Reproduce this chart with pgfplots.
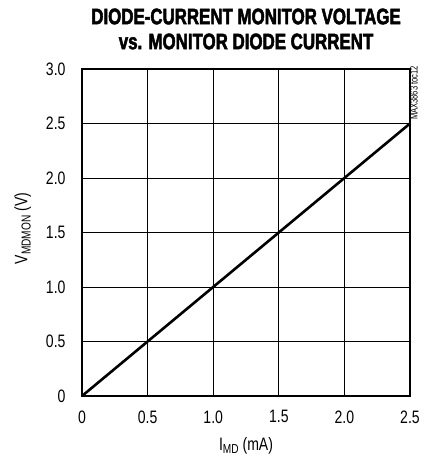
\documentclass[border=0pt]{standalone}
\usepackage{fontspec}
\setmainfont{Liberation Sans}[FakeStretch=0.78]
\newfontfamily\titlefont{Liberation Sans}[FakeStretch=0.75,FakeBold=2.2,BoldFont={* Bold}]
\newfontfamily\smallfont{Liberation Sans}[FakeStretch=0.72]
\usepackage{pgfplots}
\pgfplotsset{compat=1.18}
\newcommand{\sub}[1]{\raisebox{-0.35ex}{\fontsize{13}{13}\selectfont #1}}
\begin{document}
\begin{tikzpicture}
\useasboundingbox (0,0) rectangle (433pt,462pt);
\node[anchor=center,align=center,font={\titlefont\bfseries\fontsize{22.5}{25}\selectfont}] at (246pt,433pt) {DIODE-CURRENT MONITOR VOLTAGE\\vs. MONITOR DIODE CURRENT};
\begin{axis}[
  at={(82pt,66pt)}, anchor=south west,
  scale only axis, width=328pt, height=327pt,
  xmin=0, xmax=2.5, ymin=0, ymax=3,
  xtick={0,0.5,1,1.5,2,2.5},
  xticklabels={0,0.5,1.0,1.5,2.0,2.5},
  ytick={0,0.5,1,1.5,2,2.5,3},
  yticklabels={0,0.5,1.0,1.5,2.0,2.5,3.0},
  major tick length=0pt,
  grid=major,
  major grid style={black, line width=0.9pt},
  axis line style={black, line width=2.4pt},
  tick label style={font=\fontsize{18}{21}\selectfont},
  /pgf/number format/assume math mode=true,
  xticklabel style={yshift=-11pt},
  yticklabel style={xshift=-13pt},
  xlabel={I\sub{MD} (mA)},
  ylabel={V\sub{MDMON} (V)},
  label style={font=\fontsize{18}{21}\selectfont},
  xlabel style={yshift=-7pt},
  ylabel style={yshift=8pt, xshift=4pt},
  clip=false,
]
\addplot[black, line width=2.6pt] coordinates {(0,0) (2.5,2.5)};
\node[rotate=90, anchor=north east, inner sep=0pt, xshift=3pt, font={\smallfont\fontsize{10.5}{10.5}\selectfont}] at (rel axis cs:1,1) {MAX3863 toc12};
\end{axis}
\end{tikzpicture}
\end{document}
